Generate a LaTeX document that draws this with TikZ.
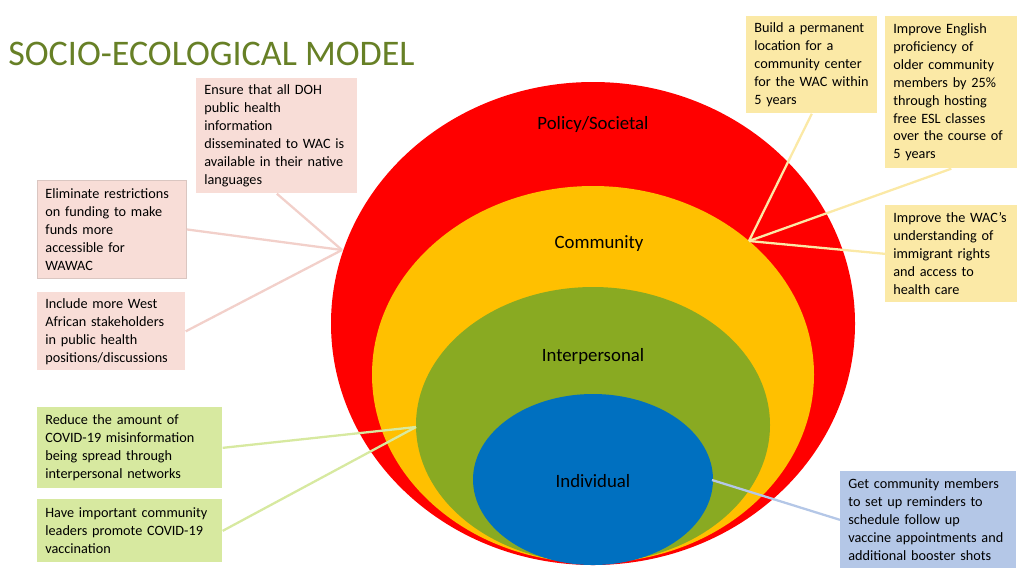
\documentclass[tikz,border=0pt]{standalone}
\usepackage{fontspec}
\setmainfont{Carlito}
\usepackage{xcolor}

\definecolor{ringred}{RGB}{255,0,0}
\definecolor{ringyellow}{RGB}{255,192,0}
\definecolor{ringgreen}{RGB}{137,170,34}
\definecolor{ringblue}{RGB}{0,112,192}
\definecolor{titlegreen}{RGB}{103,128,38}
\definecolor{pinkfill}{RGB}{248,221,215}
\definecolor{pinkline}{RGB}{242,208,202}
\definecolor{greenfill}{RGB}{215,233,160}
\definecolor{yellowfill}{RGB}{251,233,166}
\definecolor{bluefill}{RGB}{180,199,231}

\begin{document}
\begin{tikzpicture}[x=0.02cm,y=-0.02cm,
  goalbox/.style={anchor=north west,align=left,inner xsep=0.16cm,inner ysep=0pt,
    font=\fontsize{8.1}{10.2}\selectfont},
  pinkbox/.style={goalbox,fill=pinkfill},
  greenbox/.style={goalbox,fill=greenfill},
  yellowbox/.style={goalbox,fill=yellowfill},
  bluebox/.style={goalbox,fill=bluefill},
  ringlabel/.style={font=\fontsize{10.7}{12.8}\selectfont},
  link/.style={line width=1.3pt}]

\useasboundingbox (0,0) rectangle (1024,576);

% Title
\node[anchor=base west,inner sep=0pt,text=titlegreen,font=\fontsize{20.5}{24}\selectfont]
  (title) at (8,65) {SOCIO-ECOLOGICAL MODEL};

% Nested levels of the model
\fill[ringred] (593,323.5) ellipse [x radius=262, y radius=241.5];
\fill[ringyellow] (593,374.5) ellipse [x radius=221, y radius=188.5];
\fill[ringgreen] (593,425) ellipse [x radius=177, y radius=138];
\fill[ringblue] (593,479.5) ellipse [x radius=120, y radius=85.5];

\node[ringlabel] (policy) at (593,124) {Policy/Societal};
\node[ringlabel] (community) at (599,244) {Community};
\node[ringlabel] (interpersonal) at (593,356) {Interpersonal};
\node[ringlabel] (individual) at (593,481) {Individual};

% Points where the goals meet their level
\coordinate (policyhub) at (342,250);
\coordinate (communityhub) at (749,241);
\coordinate (interhub) at (416,427);
\coordinate (indivhub) at (712,480);

% Policy/Societal goals
\node[pinkbox,text width=2.9cm,minimum width=3.22cm,minimum height=2.3cm]
  (dohinfo) at (196,78) {Ensure that all DOH\\public health\\information\\disseminated to WAC is\\available in their native\\languages};
\node[pinkbox,draw=pinkfill!75!gray,line width=0.5pt,text width=2.66cm,minimum width=2.98cm,minimum height=1.96cm]
  (funding) at (37,180) {Eliminate restrictions\\on funding to make\\funds more\\accessible for\\WAWAC};
\node[pinkbox,text width=2.64cm,minimum width=2.96cm,minimum height=1.56cm]
  (stakeholders) at (37,292) {Include more West\\African stakeholders\\in public health\\positions/discussions};

% Interpersonal goals
\node[greenbox,text width=3.38cm,minimum width=3.7cm,minimum height=1.62cm]
  (misinfo) at (37,407) {Reduce the amount of\\COVID-19 misinformation\\being spread through\\interpersonal networks};
\node[greenbox,text width=3.38cm,minimum width=3.7cm,minimum height=1.26cm]
  (leaders) at (37,499) {Have important community\\leaders promote COVID-19\\vaccination};

% Community goals
\node[yellowbox,text width=2.3cm,minimum width=2.62cm,minimum height=1.94cm]
  (center) at (746,16) {Build a permanent\\location for a\\community center\\for the WAC within\\5 years};
\node[yellowbox,text width=2.32cm,minimum width=2.64cm,minimum height=3.04cm]
  (english) at (885,16) {Improve English\\proficiency of\\older community\\members by 25\%\\through hosting\\free ESL classes\\over the course of\\5 years};
\node[yellowbox,text width=2.32cm,minimum width=2.64cm,minimum height=1.94cm]
  (rights) at (885,205) {Improve the WAC’s\\understanding of\\immigrant rights\\and access to\\health care};

% Individual goal
\node[bluebox,text width=3.2cm,minimum width=3.52cm,minimum height=1.94cm]
  (reminders) at (840,471) {Get community members\\to set up reminders to\\schedule follow up\\vaccine appointments and\\additional booster shots};

% Connectors
\draw[link,pinkline] (dohinfo.south) -- (policyhub);
\draw[link,pinkline] (funding.east) -- (policyhub);
\draw[link,pinkline] (stakeholders.east) -- (policyhub);
\draw[link,greenfill] (misinfo.east) -- (interhub);
\draw[link,greenfill] (leaders.east) -- (interhub);
\draw[link,yellowfill] (center.south) -- (communityhub);
\draw[link,yellowfill] (english.south) -- (communityhub);
\draw[link,yellowfill] (rights.west) -- (communityhub);
\draw[link,bluefill] (indivhub) -- (reminders.west);

\end{tikzpicture}
\end{document}
